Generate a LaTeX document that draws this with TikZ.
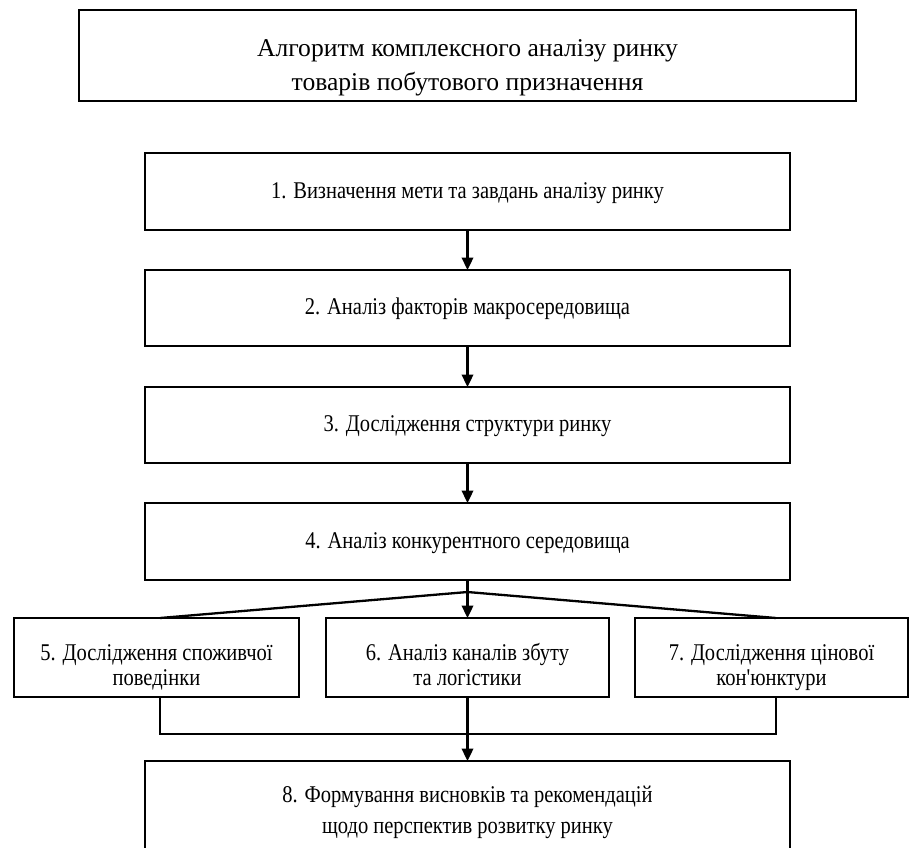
\documentclass[tikz,border=0pt]{standalone}
\usepackage{fontspec}
\setmainfont{Liberation Serif}
\newfontfamily\boxfont[FakeStretch=0.855]{Liberation Serif}
\newcommand{\topst}[1]{\rule{0pt}{#1pt}}
\newcommand{\botst}{\rule[-6pt]{0pt}{6pt}}
\usetikzlibrary{arrows.meta,calc}
\begin{document}
\begin{tikzpicture}[x=1pt,y=-1pt,
  box/.style={draw,line width=2.3pt,outer sep=0pt,anchor=north west,align=center,inner sep=0pt,
    font=\boxfont\fontsize{24}{25}\selectfont},
  conn/.style={line width=2.3pt},
  arr/.style={line width=2.3pt,-{Triangle[length=12.5pt,width=11.5pt]}}]
\useasboundingbox (0,0) rectangle (909,847);
\clip (0,0) rectangle (909,847);
\node[box,minimum width=777pt,minimum height=91pt,font=\rmfamily\fontsize{25.6}{34}\selectfont] (t) at (79,10)
  {\topst{42}Алгоритм комплексного аналізу ринку\\товарів побутового призначення\botst};
\node[box,minimum width=645pt,minimum height=77pt] (b1) at (145,153) {\topst{19}1. Визначення мети та завдань аналізу ринку\botst};
\node[box,minimum width=645pt,minimum height=76pt] (b2) at (145,270) {\topst{19}2. Аналіз факторів макросередовища\botst};
\node[box,minimum width=645pt,minimum height=76pt] (b3) at (145,387) {\topst{19}3. Дослідження структури ринку\botst};
\node[box,minimum width=645pt,minimum height=77pt] (b4) at (145,503) {\topst{19}4. Аналіз конкурентного середовища\botst};
\node[box,minimum width=285pt,minimum height=79pt] (b5) at (14,618) {\topst{36}5. Дослідження споживчої\\поведінки\botst};
\node[box,minimum width=283pt,minimum height=79pt] (b6) at (326,618) {\topst{36}6. Аналіз каналів збуту\\та логістики\botst};
\node[box,minimum width=273pt,minimum height=79pt] (b7) at (635,618) {\topst{36}7. Дослідження цінової\\кон'юнктури\botst};
\node[box,minimum width=645pt,minimum height=96pt,font=\boxfont\fontsize{24}{31}\selectfont] (b8) at (145,761) {\topst{23}8. Формування висновків та рекомендацій\\щодо перспектив розвитку ринку\botst};
\draw[arr] (b1.south) -- (b2.north);
\draw[arr] (b2.south) -- (b3.north);
\draw[arr] (b3.south) -- (b4.north);
\coordinate (ybr) at (0,592);
\coordinate (ymg) at (0,734);
\coordinate (br) at (b4.south |- ybr);
\coordinate (mg) at (b6.south |- ymg);
\coordinate (x5) at (160,0);
\coordinate (x7) at (776,0);
\draw[conn] (b4.south) -- (br);
\draw[arr] (br) -- (b6.north);
\draw[conn] (br) -- (b5.north -| x5);
\draw[conn] (br) -- (b7.north -| x7);
\draw[conn] (b5.south -| x5) |- (mg);
\draw[conn] (b7.south -| x7) |- (mg);
\draw[conn] (b6.south) -- (mg);
\draw[arr] (mg) -- (b8.north);
\end{tikzpicture}
\end{document}
